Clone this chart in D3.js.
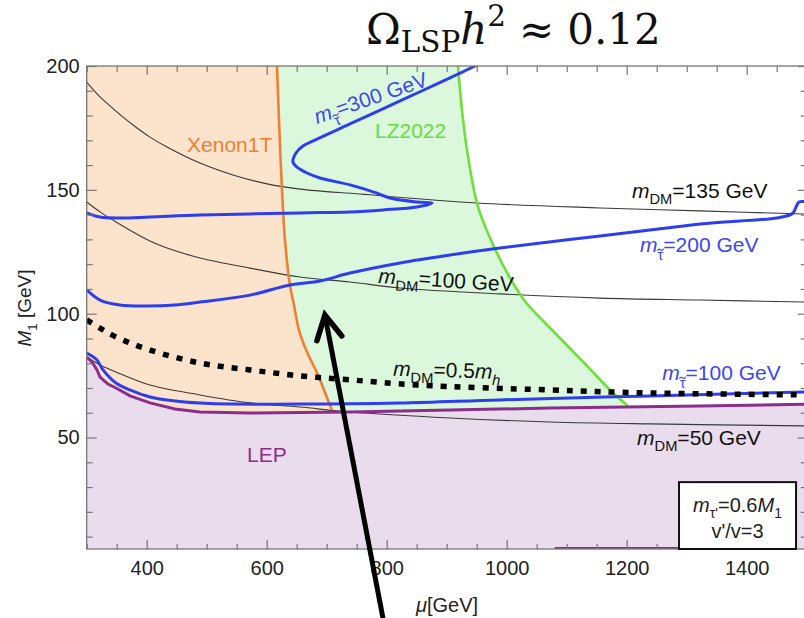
<!DOCTYPE html>
<html><head><meta charset="utf-8">
<script src="https://cdn.jsdelivr.net/npm/d3@7"></script>
<style>body{margin:0;background:#fff} svg{display:block}</style>
</head><body><svg id="c" width="804" height="618"></svg>
<script>
// ---------- data (mu [GeV], M1 [GeV]) ----------
const xenonBoundary = [[617.2,200],[620.5,178.2],[625.5,149.9],[630.5,129.7],[638.8,111.5],[645.5,103.5],[653.8,93.4],[667.2,84.5],[685.5,75.3],[698.8,67.2],[708.8,61.1]];
const lzBoundary = [[918.8,200],[925.5,182.2],[933.8,166.1],[952.2,143.1],[978.8,127.0],[1003.5,115.3],[1030.5,105.0],[1080.5,92.2],[1135.5,78.5],[1172.2,69.2],[1202.2,62.7]];
const lepBoundary = [[300,82.5],[308.8,80.5],[317.2,77.3],[322.2,74.4],[335.5,71.6],[348.8,70.0],[372.2,66.8],[405.5,64.0],[447.2,61.5],[488.8,60.3],[572.2,59.9],[738.8,60.3],[905.5,61.1],[1072,61.9],[1322,62.7],[1500,63.5]];
const lepBottomEdge = [[1080,5.4],[1290,5.4]];
const mStau100 = [[300,84.1],[308.8,82.9],[317.2,81.3],[327.2,77.3],[348.8,72.0],[372.2,69.2],[405.5,66.4],[488.8,63.9],[655.5,63.5],[822.2,63.9],[988.8,65.2],[1238.8,66.8],[1500,68.4]];
const mStau200 = [[300,109.6],[322.2,105.5],[355.5,103.5],[398.8,103.1],[447.2,103.5],[488.8,104.7],[572.2,107.5],[638.8,111.6],[688.8,113.2],[738.8,116.4],[822.2,120.5],[905.5,123.7],[988.8,126.5],[1155.5,131.4],[1322.2,136.2],[1475.5,140.3],[1482.2,143.1],[1487.2,145.1],[1500,145.1]];
const mStau300 = [[955,201],[947.2,200],[905.5,195.2],[822.2,185.9],[738.8,176.6],[683.8,170.5],[660.5,167.7],[648.8,164.9],[643.8,161.2],[650.5,159.2],[667.2,156.8],[688.8,154.8],[738.8,152.0],[783.8,148.7],[805.5,146.7],[850.5,145.1],[875.5,144.7],[850.5,143.1],[793.8,141.9],[738.8,141.1],[655.5,140.7],[488.8,139.8],[405.5,139.0],[355.5,138.6],[322.2,139.0],[300,140.7]];
const mDM135 = [[300,193.5],[322.2,187.5],[348.8,181.8],[377.2,176.2],[405.5,171.3],[433.8,167.3],[488.8,160.8],[543.8,156.0],[600.5,152.4],[655.5,150.3],[755.5,148.3],[950.5,144.7],[1155.5,142.7],[1322.2,141.5],[1500,140.2]];
const mDM100 = [[300,145.1],[322.2,141.1],[348.8,137.0],[377.2,133.0],[405.5,129.3],[433.8,126.5],[488.8,122.5],[572.2,118.4],[655.5,114.8],[738.8,112.8],[822.2,110.4],[988.8,108.0],[1155.5,106.3],[1322.2,105.5],[1500,104.7]];
const mDM50 = [[300,82.5],[322.2,79.3],[348.8,76.5],[405.5,71.2],[488.8,67.2],[572.2,64.0],[655.5,62.3],[738.8,60.3],[905.5,57.9],[1072.2,56.3],[1238.8,55.5],[1500,54.7]];
const mDMhalfHiggs = [[300,97.5],[322.2,94.2],[348.8,90.6],[405.5,85.3],[488.8,80.1],[572.2,77.3],[655.5,74.9],[738.8,73.3],[850.5,71.2],[1072.2,69.2],[1238.8,68.0],[1500,67.2]];

const xMajorTicks = [400,600,800,1000,1200,1400];
const yMajorTicks = [50,100,150,200];
const xDomain = [300,1500];
const yDomain = [5,200];

// arrow annotation (data coords): tail, tip
const arrowTail = [793.8,-22.9];
const arrowTip = [697,99.5];
// info box (data coords): left, right, top
const infoBox = [1287.2,1482.2,32.0];

// ---------- setup ----------
const svg = d3.select("#c");
const FONT = "'Liberation Sans', Arial, sans-serif";
const x = d3.scaleLinear().domain(xDomain).range([86.7,806.7]);
const y = d3.scaleLinear().domain(yDomain).range([549,66]);

svg.append("defs").append("clipPath").attr("id","clip")
  .append("rect").attr("x",x(300)).attr("y",y(200)).attr("width",x(1500)-x(300)).attr("height",y(5)-y(200));

const plot = svg.append("g").attr("clip-path","url(#clip)");
const line = d3.line().x(d=>x(d[0])).y(d=>y(d[1])).curve(d3.curveCatmullRom.alpha(0.5));
const lin = d3.line().x(d=>x(d[0])).y(d=>y(d[1]));

const COL = {
  orangeFill:"#fce3cc", orange:"#f07f30", greenFill:"#dcf8dc", green:"#6ee03a",
  lepFill:"#e9dcec", lep:"#8b2d8e", blue:"#2d3ef0", black:"#3a3a3a"
};

// fills
const last = a => a[a.length-1];
const xenonPoly = [[300,200],...xenonBoundary,[last(xenonBoundary)[0],5],[300,5]];
const greenPoly = [...xenonBoundary,[last(xenonBoundary)[0],5],[last(lzBoundary)[0],5],...lzBoundary.slice().reverse()];
const lepPoly = [...lepBoundary,[1500,5],[300,5]];
plot.append("path").attr("d",line(xenonPoly)).attr("fill",COL.orangeFill);
plot.append("path").attr("d",line(greenPoly)).attr("fill",COL.greenFill);
plot.append("path").attr("d",lin(lepPoly)).attr("fill",COL.lepFill);

// thin black m_DM lines
[mDM135,mDM100,mDM50].forEach(d=>{
  plot.append("path").attr("d",line(d)).attr("fill","none").attr("stroke",COL.black).attr("stroke-width",1.1);
});
// experimental bounds
plot.append("path").attr("d",line(xenonBoundary)).attr("fill","none").attr("stroke",COL.orange).attr("stroke-width",2.6);
plot.append("path").attr("d",line(lzBoundary)).attr("fill","none").attr("stroke",COL.green).attr("stroke-width",2.6);
plot.append("path").attr("d",lin(lepBoundary)).attr("fill","none").attr("stroke",COL.lep).attr("stroke-width",3);
plot.append("path").attr("d",lin(lepBottomEdge)).attr("fill","none").attr("stroke",COL.lep).attr("stroke-width",2);
// stau lines
[mStau100,mStau200,mStau300].forEach(d=>{
  plot.append("path").attr("d",line(d)).attr("fill","none").attr("stroke",COL.blue).attr("stroke-width",3).attr("stroke-linejoin","round");
});
// dashed m_DM = 0.5 m_h
plot.append("path").attr("d",line(mDMhalfHiggs)).attr("fill","none").attr("stroke","#000")
  .attr("stroke-width",5.5).attr("stroke-dasharray","6,8");

// ---------- axes / frame ----------
const TICKC = "#777";
function styleAxis(g){
  g.select(".domain").remove();
  g.selectAll(".tick line").attr("stroke",TICKC).attr("stroke-width",1.2);
  g.selectAll(".tick text").attr("fill","#222").attr("font-size",20).attr("font-family",FONT);
}
const fmt = d3.format("d");
const xMinor = x.ticks(24).filter(v=>!xMajorTicks.includes(v));
const yMinor = y.ticks(20).filter(v=>!yMajorTicks.includes(v));
// bottom
svg.append("g").attr("transform",`translate(0,${y(5)})`).call(d3.axisBottom(x).tickValues(xMajorTicks).tickFormat(fmt).tickSize(-9).tickPadding(12)).call(styleAxis);
svg.append("g").attr("transform",`translate(0,${y(5)})`).call(d3.axisBottom(x).tickValues(xMinor).tickSize(-5).tickFormat("")).call(styleAxis);
// top
svg.append("g").attr("transform",`translate(0,${y(200)})`).call(d3.axisTop(x).tickValues(xMajorTicks).tickSize(-9).tickFormat("")).call(styleAxis);
svg.append("g").attr("transform",`translate(0,${y(200)})`).call(d3.axisTop(x).tickValues(xMinor).tickSize(-6).tickFormat("")).call(styleAxis);
// left
svg.append("g").attr("transform",`translate(${x(300)},0)`).call(d3.axisLeft(y).tickValues(yMajorTicks).tickFormat(fmt).tickSize(-10).tickPadding(7)).call(styleAxis);
svg.append("g").attr("transform",`translate(${x(300)},0)`).call(d3.axisLeft(y).tickValues(yMinor).tickSize(-6).tickFormat("")).call(styleAxis);
// right
svg.append("g").attr("transform",`translate(${x(1500)},0)`).call(d3.axisRight(y).tickValues(yMajorTicks).tickSize(-9).tickFormat("")).call(styleAxis);
svg.append("g").attr("transform",`translate(${x(1500)},0)`).call(d3.axisRight(y).tickValues(yMinor).tickSize(-6).tickFormat("")).call(styleAxis);

svg.append("rect").attr("x",x(300)).attr("y",y(200)).attr("width",x(1500)-x(300)).attr("height",y(5)-y(200))
  .attr("fill","none").attr("stroke","#777").attr("stroke-width",1.3);

// ---------- rich text helper ----------
function rich(sel, parts, size, family){
  const t = sel.append("text").attr("font-size",size).attr("font-family",family||FONT);
  let off = 0, idx = 0;
  const accents = [];
  parts.forEach(p=>{
    const target = p.sub ? size*(p.shift||0.3) : p.sup ? -size*(p.shift||0.42) : 0;
    const ts = t.append("tspan").text(p.t).attr("dy",target-off);
    if (p.dx) ts.attr("dx",p.dx);
    off = target;
    const fs = (p.sub||p.sup) ? size*(p.scale||0.7) : size;
    if (p.sub||p.sup) ts.attr("font-size",fs);
    if (p.i) ts.attr("font-style","italic");
    if (p.tilde) accents.push({idx, base:target, fs});
    idx += p.t.length;
  });
  // tilde accents drawn as small strokes above the glyph
  accents.forEach(a=>{
    const r = t.node().getExtentOfChar(a.idx);
    const cx = r.x + r.width/2, ty = a.base - 0.52*a.fs - 2.6, w = 3.2;
    sel.append("path")
      .attr("d",`M${cx-w},${ty+1} Q${cx-w/2},${ty-1.6} ${cx},${ty} T${cx+w},${ty-1}`)
      .attr("fill","none").attr("stroke",t.attr("fill")||"#000").attr("stroke-width",1.1)
      .attr("class","accent");
  });
  return t;
}
// m with stau subscript (tau with tilde accent)
const mStau = [{t:"m",i:1},{t:"τ",sub:1,shift:0.38,tilde:1}];

// ---------- labels (data-anchored) ----------
const labels = [
  {pos:[467.2,165.3], col:COL.orange, parts:[{t:"Xenon1T"}]},
  {pos:[780.5,170.9], col:"#66dd40", parts:[{t:"LZ2022"}]},
  {pos:[567.2,40.1], col:COL.lep, parts:[{t:"LEP"}]},
  {pos:[683.8,176.6], col:"#3a48ee", rot:-19, parts:[...mStau,{t:"=300 GeV"}]},
  {pos:[1208.8,146.7], col:"#111", parts:[{t:"m",i:1},{t:"DM",sub:1},{t:"=135 GeV"}]},
  {pos:[1222.2,124.9], col:"#3a48ee", parts:[...mStau,{t:"=200 GeV"}]},
  {pos:[785.5,112.4], col:"#111", rot:3.7, parts:[{t:"m",i:1},{t:"DM",sub:1},{t:"=100 GeV"}]},
  {pos:[810.5,74.9], col:"#111", rot:1.6, parts:[{t:"m",i:1},{t:"DM",sub:1},{t:"=0.5"},{t:"m",i:1},{t:"h",i:1,sub:1}]},
  {pos:[1259.2,73.2], col:"#3a48ee", parts:[...mStau,{t:"=100 GeV"}]},
  {pos:[1217.2,47.0], col:"#111", parts:[{t:"m",i:1},{t:"DM",sub:1},{t:"=50 GeV"}]}
];
labels.forEach(l=>{
  const g = svg.append("g").attr("transform",`translate(${x(l.pos[0])},${y(l.pos[1])}) rotate(${l.rot||0})`);
  g.attr("fill",l.col);
  const t = g.append("g");
  // set fill first so accents inherit the colour
  const txt = rich(t.attr("fill",l.col), l.parts.map(p=>p), 21);
  txt.attr("fill",l.col);
  t.selectAll(".accent").attr("stroke",l.col);
});

// ---------- info box ----------
svg.append("rect").attr("x",x(infoBox[0])).attr("y",y(infoBox[2]))
  .attr("width",x(infoBox[1])-x(infoBox[0])).attr("height",y(5)-y(infoBox[2]))
  .attr("fill","#fff").attr("stroke","#111").attr("stroke-width",2);
const bx = (x(infoBox[0])+x(infoBox[1]))/2;
rich(svg.append("g").attr("transform",`translate(${bx},${y(20)})`),
  [{t:"m",i:1},{t:"τ'",sub:1},{t:"=0.6"},{t:"M",i:1},{t:"1",sub:1}],20).attr("fill","#222").attr("text-anchor","middle");
svg.append("text").attr("x",bx).attr("y",y(9.5)).attr("text-anchor","middle").attr("font-size",20)
  .attr("font-family",FONT).attr("fill","#222").text("v'/v=3");

// ---------- axis titles ----------
rich(svg.append("g").attr("transform","translate(31,308) rotate(-90)"),
  [{t:"M",i:1},{t:"1",sub:1},{t:" [GeV]"}],19).attr("fill","#222").attr("text-anchor","middle");
rich(svg.append("g").attr("transform","translate(447,612)"),
  [{t:"μ",i:1},{t:"[GeV]"}],20).attr("fill","#222").attr("text-anchor","middle");

// ---------- title ----------
rich(svg.append("g").attr("transform","translate(366,44)"),
  [{t:"Ω"},{t:"LSP",sub:1,shift:0.2},{t:"h",i:1},{t:"2",sup:1},{t:"≈",dx:13},{t:"0.12",dx:13}],42,"'DejaVu Serif','Liberation Serif',serif").attr("fill","#111");

// ---------- arrow ----------
const t0=[x(arrowTail[0]),y(arrowTail[1])], t1=[x(arrowTip[0]),y(arrowTip[1])];
const ang = Math.atan2(t0[1]-t1[1],t0[0]-t1[0]);
const wl = 27, wa = 28*Math.PI/180;
const w1=[t1[0]+wl*Math.cos(ang+wa), t1[1]+wl*Math.sin(ang+wa)];
const w2=[t1[0]+wl*Math.cos(ang-wa), t1[1]+wl*Math.sin(ang-wa)];
svg.append("path").attr("d",d3.line()([t0,t1])).attr("stroke","#000").attr("stroke-width",5).attr("fill","none");
svg.append("path").attr("d",d3.line()([w1,t1,w2])).attr("stroke","#000").attr("stroke-width",5.5)
  .attr("fill","none").attr("stroke-linejoin","miter").attr("stroke-linecap","round");
</script></body></html>
